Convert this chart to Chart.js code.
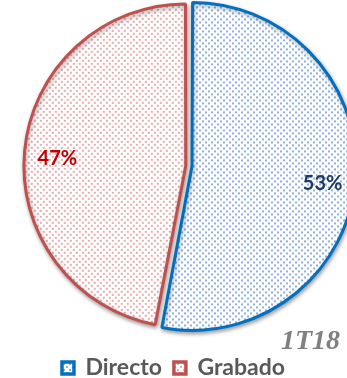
<!DOCTYPE html>
<html>
    <head>
        <title>Directo / Grabado</title>
        <script src="https://cdn.jsdelivr.net/npm/chart.js"></script>
        <style>
            html, body { margin: 0; padding: 0; background: #fff; overflow: hidden; }
            #wrap { position: relative; width: 347px; height: 378px; }
        </style>
    </head>
    <body>
        <div id="wrap">
            <canvas id="pieChart" width="347" height="378"></canvas>
        </div>
        <script>
            const categories = ['Directo', 'Grabado'];
            const shares = [53, 47];
            const lineColors = ['#0070C0', '#C0504D'];
            const dotColors = ['rgba(30, 100, 200, 0.5)', 'rgba(205, 70, 70, 0.45)'];
            const labelColors = ['#1F3864', '#C00000'];
            const period = '1T18';

            const canvas = document.getElementById('pieChart');
            const ctx = canvas.getContext('2d');

            // small dotted tile, like the office "10%" pattern fill
            function dotPattern(color) {
                const tile = document.createElement('canvas');
                tile.width = 6;
                tile.height = 6;
                const g = tile.getContext('2d');
                g.fillStyle = '#fff';
                g.fillRect(0, 0, 6, 6);
                g.fillStyle = color;
                g.fillRect(0, 0, 2, 2);
                g.fillRect(3, 3, 2, 2);
                return ctx.createPattern(tile, 'repeat');
            }
            const fills = dotColors.map(dotPattern);

            // move the pie inside the canvas without moving the legend
            const pieShift = {
                id: 'pieShift',
                afterLayout(chart, args, opts) {
                    const a = chart.chartArea;
                    a.left += opts.x; a.right += opts.x;
                    a.top += opts.y; a.bottom += opts.y;
                }
            };

            const softShadow = {
                id: 'softShadow',
                beforeDatasetsDraw(chart) {
                    const c = chart.ctx;
                    c.save();
                    c.shadowColor = 'rgba(0, 0, 0, 0.35)';
                    c.shadowBlur = 4;
                    c.shadowOffsetX = 1;
                    c.shadowOffsetY = 2;
                },
                afterDatasetsDraw(chart) {
                    chart.ctx.restore();
                }
            };

            // percentage text inside each slice
            const sliceLabels = {
                id: 'sliceLabels',
                afterDatasetsDraw(chart) {
                    const c = chart.ctx;
                    const meta = chart.getDatasetMeta(0);
                    c.save();
                    c.font = 'bold 20px Lato';
                    c.textAlign = 'center';
                    c.textBaseline = 'middle';
                    meta.data.forEach((arc, i) => {
                        const mid = (arc.startAngle + arc.endAngle) / 2;
                        const r = arc.outerRadius * (i === 0 ? 0.845 : 0.82);
                        c.fillStyle = labelColors[i];
                        c.fillText(shares[i] + '%',
                            arc.x + Math.cos(mid) * r,
                            arc.y + Math.sin(mid) * r + 5);
                    });
                    c.restore();
                }
            };

            const periodTag = {
                id: 'periodTag',
                afterDraw(chart) {
                    const c = chart.ctx;
                    c.save();
                    c.font = 'italic bold 28px "Liberation Serif"';
                    c.fillStyle = '#808080';
                    c.textAlign = 'right';
                    c.textBaseline = 'alphabetic';
                    c.fillText(period, chart.width - 7, 349);
                    c.restore();
                }
            };

            new Chart(ctx, {
                type: 'pie',
                data: {
                    labels: categories,
                    datasets: [{
                        data: shares,
                        backgroundColor: fills,
                        borderColor: lineColors,
                        borderWidth: 3,
                        offset: [16, 9],
                        radius: 160,
                        clip: false
                    }]
                },
                plugins: [pieShift, softShadow, sliceLabels, periodTag],
                options: {
                    responsive: false,
                    animation: false,
                    layout: { padding: { bottom: -11.5 } },
                    plugins: {
                        pieShift: { x: 14.5, y: -6.25 },
                        tooltip: { enabled: false },
                        legend: {
                            position: 'bottom',
                            labels: {
                                color: '#595959',
                                font: { family: 'Lato', size: 23, weight: 'bold' },
                                boxWidth: 12,
                                boxHeight: 12,
                                padding: 12,
                                generateLabels(chart) {
                                    return categories.map((name, i) => ({
                                        text: name,
                                        fillStyle: fills[i],
                                        strokeStyle: lineColors[i],
                                        lineWidth: 3.5,
                                        fontColor: '#595959',
                                        index: i,
                                        hidden: false
                                    }));
                                }
                            }
                        }
                    }
                }
            });
        </script>
    </body>
</html>
